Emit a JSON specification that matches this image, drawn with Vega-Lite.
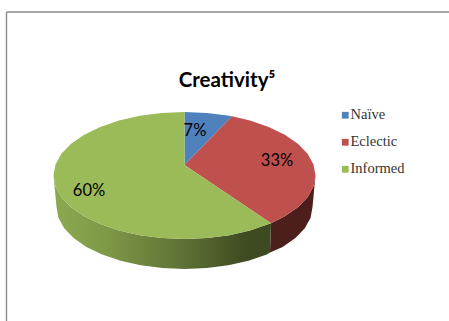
{
"$schema":"https://vega.github.io/schema/vega-lite/v6.json",
"width":449,"height":321,"padding":0,"autosize":{"type":"none"},
"background":"white",
"config":{"view":{"stroke":null}},
"title":{"text":"Creativity⁵","font":"Lato","fontSize":20.5,"fontWeight":"bold","color":"#000000","anchor":"middle","dx":2.5,"dy":95},
"datasets":{
"frame":[{"left":-178,"right":264.5,"top":163.5,"bottom":-145.5}],
"wall":[
{"order":1,"x":-131,"y":0},{"order":2,"x":-129,"y":-11},{"order":3,"x":-123.1,"y":-21.7},{"order":4,"x":-113.4,"y":-31.75},{"order":5,"x":-100.3,"y":-40.8},{"order":6,"x":-84.2,"y":-48.6},{"order":7,"x":-65.5,"y":-55},{"order":8,"x":-44.8,"y":-59.7},{"order":9,"x":-22.7,"y":-62.5},{"order":10,"x":0,"y":-63.5},{"order":11,"x":22.7,"y":-62.5},{"order":12,"x":44.8,"y":-59.7},{"order":13,"x":65.5,"y":-55},{"order":14,"x":84.2,"y":-48.6},{"order":15,"x":86.5,"y":-47.7},{"order":16,"x":85.5,"y":-77},{"order":17,"x":82.3,"y":-79},{"order":18,"x":64,"y":-85.2},{"order":19,"x":43.8,"y":-89.8},{"order":20,"x":22.2,"y":-92.6},{"order":21,"x":0,"y":-93.5},{"order":22,"x":-22.2,"y":-92.6},{"order":23,"x":-43.8,"y":-89.8},{"order":24,"x":-64,"y":-85.2},{"order":25,"x":-82.3,"y":-79},{"order":26,"x":-98.1,"y":-71.4},{"order":27,"x":-110.9,"y":-62.5},{"order":28,"x":-120.3,"y":-52.7},{"order":29,"x":-126.1,"y":-42.3},{"order":30,"x":-128,"y":-31.5}
],
"wallRed":[
{"order":1,"x":86.5,"y":-47.7},{"order":2,"x":100.3,"y":-40.8},{"order":3,"x":113.4,"y":-31.75},{"order":4,"x":123.1,"y":-21.7},{"order":5,"x":129,"y":-11},{"order":6,"x":131,"y":0},{"order":7,"x":128,"y":-31.5},{"order":8,"x":126.1,"y":-42.3},{"order":9,"x":120.3,"y":-52.7},{"order":10,"x":110.9,"y":-62.5},{"order":11,"x":98.1,"y":-71.4},{"order":12,"x":85.5,"y":-77}
],
"disc":[
{"slice":"Naïve","order":1,"x":0,"y":10.5},{"slice":"Naïve","order":2,"x":0,"y":63.5},{"slice":"Naïve","order":3,"x":22.7,"y":62.5},{"slice":"Naïve","order":4,"x":44.8,"y":59.7},{"slice":"Naïve","order":5,"x":47.5,"y":59.2},
{"slice":"Eclectic","order":1,"x":0,"y":10.5},{"slice":"Eclectic","order":2,"x":47.5,"y":59.2},{"slice":"Eclectic","order":3,"x":65.5,"y":55},{"slice":"Eclectic","order":4,"x":84.2,"y":48.6},{"slice":"Eclectic","order":5,"x":100.3,"y":40.8},{"slice":"Eclectic","order":6,"x":113.4,"y":31.75},{"slice":"Eclectic","order":7,"x":123.1,"y":21.7},{"slice":"Eclectic","order":8,"x":129,"y":11},{"slice":"Eclectic","order":9,"x":131,"y":0},{"slice":"Eclectic","order":10,"x":129,"y":-11},{"slice":"Eclectic","order":11,"x":123.1,"y":-21.7},{"slice":"Eclectic","order":12,"x":113.4,"y":-31.75},{"slice":"Eclectic","order":13,"x":100.3,"y":-40.8},{"slice":"Eclectic","order":14,"x":86.5,"y":-47.7},
{"slice":"Informed","order":1,"x":0,"y":10.5},{"slice":"Informed","order":2,"x":86.5,"y":-47.7},{"slice":"Informed","order":3,"x":84.2,"y":-48.6},{"slice":"Informed","order":4,"x":65.5,"y":-55},{"slice":"Informed","order":5,"x":44.8,"y":-59.7},{"slice":"Informed","order":6,"x":22.7,"y":-62.5},{"slice":"Informed","order":7,"x":0,"y":-63.5},{"slice":"Informed","order":8,"x":-22.7,"y":-62.5},{"slice":"Informed","order":9,"x":-44.8,"y":-59.7},{"slice":"Informed","order":10,"x":-65.5,"y":-55},{"slice":"Informed","order":11,"x":-84.2,"y":-48.6},{"slice":"Informed","order":12,"x":-100.3,"y":-40.8},{"slice":"Informed","order":13,"x":-113.4,"y":-31.75},{"slice":"Informed","order":14,"x":-123.1,"y":-21.7},{"slice":"Informed","order":15,"x":-129,"y":-11},{"slice":"Informed","order":16,"x":-131,"y":0},{"slice":"Informed","order":17,"x":-129,"y":11},{"slice":"Informed","order":18,"x":-123.1,"y":21.7},{"slice":"Informed","order":19,"x":-113.4,"y":31.75},{"slice":"Informed","order":20,"x":-100.3,"y":40.8},{"slice":"Informed","order":21,"x":-84.2,"y":48.6},{"slice":"Informed","order":22,"x":-65.5,"y":55},{"slice":"Informed","order":23,"x":-44.8,"y":59.7},{"slice":"Informed","order":24,"x":-22.7,"y":62.5},{"slice":"Informed","order":25,"x":0,"y":63.5}
],
"shares":[
{"slice":"Naïve","share":0.07,"x":10.5,"y":44.5},
{"slice":"Eclectic","share":0.33,"x":92.5,"y":14.5},
{"slice":"Informed","share":0.60,"x":-95.5,"y":-15.5}
]
},
"encoding":{
"x":{"type":"quantitative","scale":{"domain":[-184.5,264.5],"nice":false,"zero":false},"axis":null},
"y":{"type":"quantitative","scale":{"domain":[-145.5,175.5],"nice":false,"zero":false},"axis":null}
},
"layer":[
{"data":{"name":"frame"},"mark":{"type":"rule","color":"#8A8A8A","strokeWidth":1.4},
 "encoding":{"x":{"field":"left","type":"quantitative"},"y":{"field":"top","type":"quantitative"},"y2":{"field":"bottom"}}},
{"data":{"name":"frame"},"mark":{"type":"rule","color":"#8A8A8A","strokeWidth":1.4},
 "encoding":{"y":{"field":"top","type":"quantitative"},"x":{"field":"left","type":"quantitative"},"x2":{"field":"right"}}},
{"data":{"name":"wallRed"},
 "mark":{"type":"line","fill":"#4C1E1C","strokeWidth":0,"stroke":"#4C1E1C"},
 "encoding":{"x":{"field":"x","type":"quantitative"},"y":{"field":"y","type":"quantitative"},"order":{"field":"order","type":"quantitative"}}},
{"data":{"name":"wall"},
 "mark":{"type":"line","strokeWidth":0,"stroke":"#5E7035","fill":{"gradient":"linear","x1":0,"x2":1,"y1":0,"y2":0,"stops":[{"offset":0,"color":"#8CAA50"},{"offset":0.25,"color":"#7D9846"},{"offset":0.6,"color":"#5E7035"},{"offset":0.88,"color":"#3F4B21"},{"offset":1,"color":"#3D4920"}]}},
 "encoding":{"x":{"field":"x","type":"quantitative"},"y":{"field":"y","type":"quantitative"},"order":{"field":"order","type":"quantitative"}}},
{"data":{"name":"disc"},
 "mark":{"type":"line","strokeWidth":0,"stroke":"transparent"},
 "encoding":{"x":{"field":"x","type":"quantitative"},"y":{"field":"y","type":"quantitative"},"order":{"field":"order","type":"quantitative"},
  "fill":{"field":"slice","type":"nominal",
   "scale":{"domain":["Naïve","Eclectic","Informed"],"range":["#4F81BD","#C0504D","#9BBB59"]},
   "legend":{"title":null,"orient":"none","legendX":338,"legendY":108,"symbolType":"square","symbolSize":46,"symbolStrokeWidth":0,"labelFont":"Liberation Serif","labelFontSize":14.5,"labelColor":"#333333","labelOffset":-2,"rowPadding":12}}}},
{"data":{"name":"shares"},
 "mark":{"type":"text","font":"Lato","fontSize":16.5,"color":"#000000"},
 "encoding":{"x":{"field":"x","type":"quantitative"},"y":{"field":"y","type":"quantitative"},"text":{"field":"share","type":"quantitative","format":".0%"}}}
]
}
